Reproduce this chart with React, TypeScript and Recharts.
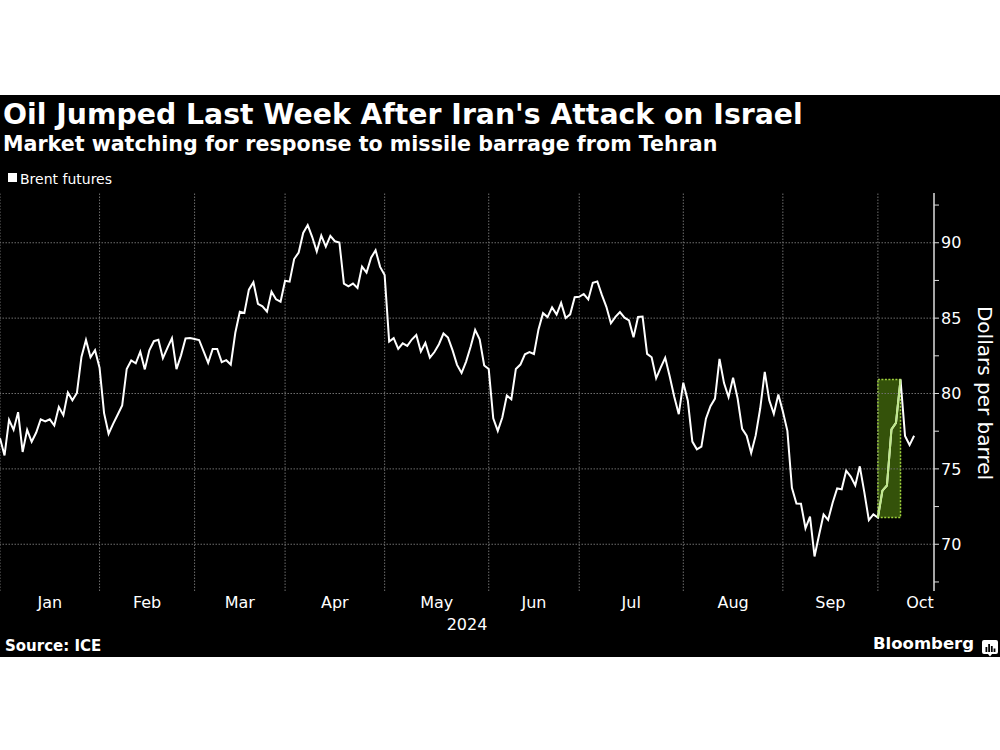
import React from 'react';
import { LineChart, Line, XAxis, YAxis, ReferenceLine, ReferenceArea } from 'recharts';

// Brent futures, daily settlements (front month), Dec 29 2023 – Oct 10 2024
const dec2023 = [77.04];
const jan = [75.89, 78.25, 77.59, 78.76, 76.12, 77.59, 76.8, 77.41, 78.29, 78.15, 78.29, 77.88, 79.1, 78.56, 80.06, 79.55, 80.04, 82.43, 83.55, 82.4, 82.87, 81.71];
const feb = [78.7, 77.33, 77.99, 78.59, 79.21, 81.63, 82.19, 82.0, 82.77, 81.6, 82.86, 83.47, 83.56, 82.34, 83.03, 83.67, 81.62, 82.53, 83.65, 83.68, 83.62];
const mar = [83.55, 82.8, 82.04, 82.96, 82.96, 82.08, 82.21, 81.92, 84.03, 85.42, 85.34, 86.89, 87.38, 85.95, 85.78, 85.43, 86.75, 86.25, 86.09, 87.48];
const apr = [87.42, 88.92, 89.35, 90.65, 91.17, 90.38, 89.42, 90.48, 89.74, 90.45, 90.1, 90.02, 87.29, 87.11, 87.29, 87.0, 88.42, 88.02, 89.01, 89.5, 88.4, 87.86];
const may = [83.44, 83.67, 82.96, 83.33, 83.16, 83.58, 83.88, 82.79, 83.36, 82.38, 82.75, 83.27, 83.98, 83.71, 82.88, 81.9, 81.36, 82.12, 83.1, 84.22, 83.6, 81.86, 81.62];
const jun = [78.36, 77.52, 78.41, 79.87, 79.62, 81.63, 81.92, 82.6, 82.75, 82.62, 84.25, 85.33, 85.07, 85.71, 85.24, 86.01, 85.01, 85.25, 86.39, 86.41];
const jul = [86.6, 86.24, 87.34, 87.43, 86.54, 85.75, 84.66, 85.08, 85.4, 85.03, 84.85, 83.73, 85.08, 85.11, 82.63, 82.4, 81.01, 81.71, 82.37, 81.13, 79.78, 78.63, 80.72];
const aug = [79.52, 76.81, 76.3, 76.48, 78.33, 79.16, 79.66, 82.3, 80.69, 79.76, 81.04, 79.68, 77.66, 77.2, 76.05, 77.22, 79.02, 81.43, 79.55, 78.65, 79.94, 78.8];
const sep = [77.52, 73.75, 72.7, 72.69, 71.06, 71.84, 69.19, 70.61, 71.97, 71.61, 72.75, 73.7, 73.65, 74.88, 74.49, 73.9, 75.17, 73.46, 71.6, 71.98, 71.77];
const oct = [73.56, 73.9, 77.62, 78.05, 80.93, 77.18, 76.58, 77.2];

const monthNames = ['Jan', 'Feb', 'Mar', 'Apr', 'May', 'Jun', 'Jul', 'Aug', 'Sep', 'Oct'];
const yTicks = [67.5, 70, 72.5, 75, 77.5, 80, 82.5, 85, 87.5, 90, 92.5];
const yGrid = [70, 75, 80, 85, 90];
const yDomain: [number, number] = [66.9, 93.3];
const xMax = 206.4;
const octLabelInset = 3.1;
const highlightSessions = 5; // Sep 30 -> Oct 7

const months = [dec2023, jan, feb, mar, apr, may, jun, jul, aug, sep, oct];
const prices = months.flat();

const boundaries: number[] = [];
{
  let acc = 0;
  for (const m of months.slice(0, -1)) {
    acc += m.length;
    boundaries.push(acc - 1);
  }
}
const labelPos = boundaries.map((b, i) =>
  i < boundaries.length - 1 ? (b + boundaries[i + 1]) / 2 : xMax - octLabelInset
);
const hlStart = boundaries[boundaries.length - 1];
const hlEnd = hlStart + highlightSessions;
const hlValues = prices.slice(hlStart, hlEnd + 1);
const hlMin = Math.min(...hlValues);
const hlMax = Math.max(...hlValues);

const data = prices.map((p, i) => ({
  i,
  price: p,
  hl: i >= hlStart && i <= hlEnd ? p : null,
}));

const FONT = "'DejaVu Sans', Verdana, sans-serif";
const gridStroke = '#6e6e6e';
const axisStroke = '#dcdcdc';

export default function App() {
  return (
    <div style={{ position: 'absolute', left: 0, top: 0, width: 1000, height: 750, background: '#fff', overflow: 'hidden', fontFamily: FONT }}>
      <div style={{ position: 'absolute', left: 0, top: 95, width: 1000, height: 562, background: '#000' }} />
      <div style={{ position: 'absolute', left: 3, top: 101, fontSize: 28.3, fontWeight: 'bold', color: '#fff', lineHeight: 1, whiteSpace: 'nowrap' }}>
        Oil Jumped Last Week After Iran's Attack on Israel
      </div>
      <div style={{ position: 'absolute', left: 3, top: 133.6, fontSize: 20.6, fontWeight: 'bold', color: '#fff', lineHeight: 1, whiteSpace: 'nowrap' }}>
        Market watching for response to missile barrage from Tehran
      </div>
      <div style={{ position: 'absolute', left: 8, top: 173, width: 9, height: 9, background: '#fff' }} />
      <div style={{ position: 'absolute', left: 20, top: 171.5, fontSize: 14, color: '#fff', lineHeight: 1, whiteSpace: 'nowrap' }}>
        Brent futures
      </div>
      <div style={{ position: 'absolute', left: 0, top: 0 }}>
        <LineChart width={1000} height={750} data={data} margin={{ top: 193, right: 6, bottom: 129, left: 0 }}>
          <XAxis
            xAxisId="b"
            dataKey="i"
            type="number"
            domain={[0, xMax]}
            ticks={boundaries}
            interval={0}
            tick={false}
            tickSize={5}
            height={0}
            axisLine={{ stroke: axisStroke, strokeWidth: 1.5 }}
            tickLine={{ stroke: axisStroke }}
          />
          <XAxis
            xAxisId="m"
            dataKey="i"
            type="number"
            domain={[0, xMax]}
            ticks={labelPos}
            interval={0}
            tickFormatter={(v: number) => monthNames[labelPos.indexOf(v)] ?? ''}
            axisLine={false}
            tickLine={false}
            tickSize={0}
            tickMargin={6}
            height={30}
            tick={{ fill: '#fff', fontSize: 16, fontFamily: FONT }}
          />
          <YAxis
            orientation="right"
            type="number"
            domain={yDomain}
            ticks={yTicks}
            interval={0}
            width={60}
            tickSize={5}
            tickMargin={2}
            allowDataOverflow
            tickFormatter={(v: number) => (v % 5 === 0 ? String(v) : '')}
            axisLine={{ stroke: axisStroke, strokeWidth: 1.5 }}
            tickLine={{ stroke: axisStroke }}
            tick={{ fill: '#fff', fontSize: 16, fontFamily: FONT }}
          />
          {yGrid.map((v) => (
            <ReferenceLine key={'h' + v} xAxisId="b" y={v} stroke={gridStroke} strokeDasharray="1.5 1.5" />
          ))}
          {boundaries.map((b) => (
            <ReferenceLine key={'v' + b} xAxisId="b" x={b} stroke={gridStroke} strokeDasharray="1.5 1.5" />
          ))}
          <ReferenceArea
            xAxisId="b"
            x1={hlStart}
            x2={hlEnd}
            y1={hlMin}
            y2={hlMax}
            fill="#34520a"
            fillOpacity={1}
            stroke="#9fd23c"
            strokeWidth={1.5}
            strokeDasharray="2 1.5"
          />
          <Line xAxisId="b" type="linear" dataKey="price" stroke="#ffffff" strokeWidth={2} dot={false} isAnimationActive={false} />
          <Line xAxisId="b" type="linear" dataKey="hl" stroke="#bfe88a" strokeWidth={2} dot={false} isAnimationActive={false} connectNulls={false} />
        </LineChart>
      </div>
      <div style={{ position: 'absolute', left: 417, top: 616.5, width: 100, textAlign: 'center', fontSize: 16, color: '#fff', lineHeight: 1 }}>
        2024
      </div>
      <div style={{ position: 'absolute', left: 985 - 100, top: 392.5 - 10, width: 200, height: 20, textAlign: 'center', fontSize: 20, color: '#fff', lineHeight: '20px', transform: 'rotate(90deg)', whiteSpace: 'nowrap' }}>
        Dollars per barrel
      </div>
      <div style={{ position: 'absolute', left: 5, top: 639, fontSize: 15, fontWeight: 'bold', color: '#fff', lineHeight: 1, whiteSpace: 'nowrap' }}>
        Source: ICE
      </div>
      <div style={{ position: 'absolute', left: 873, top: 636, fontSize: 16.5, fontWeight: 'bold', color: '#fff', lineHeight: 1, whiteSpace: 'nowrap' }}>
        Bloomberg
      </div>
      <svg style={{ position: 'absolute', left: 982, top: 640 }} width={16} height={17} viewBox="0 0 16 17">
        <path d="M2 0 H14 A2 2 0 0 1 16 2 V12 A2 2 0 0 1 14 14 H10 L8 16.5 L6 14 H2 A2 2 0 0 1 0 12 V2 A2 2 0 0 1 2 0 Z" fill="#fff" />
        <rect x={3.5} y={7} width={1.8} height={5} fill="#000" />
        <rect x={6.2} y={4} width={1.8} height={8} fill="#000" />
        <rect x={8.9} y={6} width={1.8} height={6} fill="#000" />
        <rect x={11.6} y={8.5} width={1.8} height={3.5} fill="#000" />
      </svg>
    </div>
  );
}
